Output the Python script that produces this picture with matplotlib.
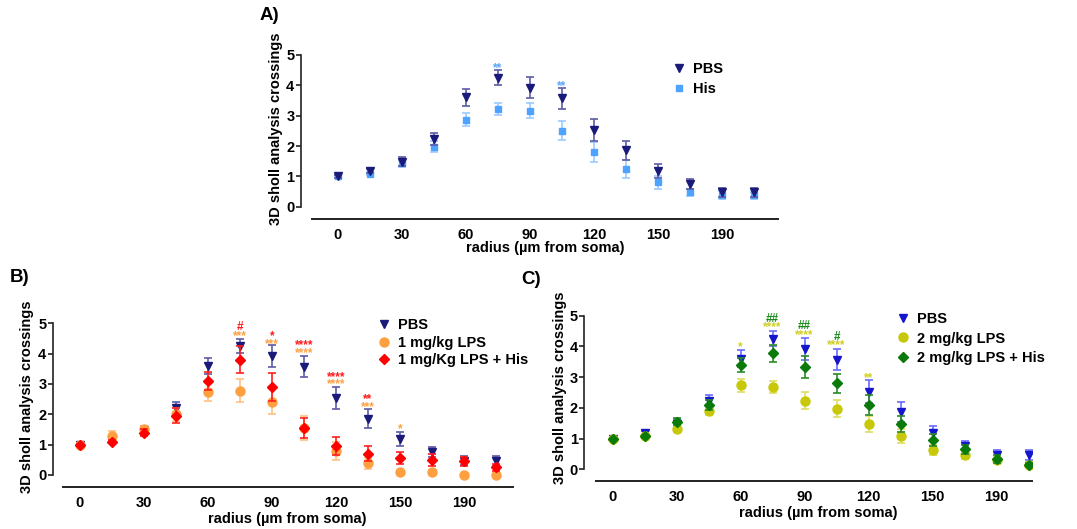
import matplotlib
matplotlib.use("Agg")
import matplotlib.pyplot as plt
import numpy as np

# ---------------- data ----------------
radius_labels = ["0", "", "30", "", "60", "", "90", "", "120", "", "150", "", "190", ""]
n_pts = 14

pbs_mean = [1.0, 1.17, 1.48, 2.22, 3.60, 4.25, 3.92, 3.57, 2.53, 1.86, 1.18, 0.75, 0.47, 0.47]
pbs_err = [0.05, 0.07, 0.15, 0.20, 0.27, 0.24, 0.35, 0.35, 0.37, 0.32, 0.23, 0.17, 0.15, 0.16]

his_mean = [1.0, 1.08, 1.43, 1.97, 2.87, 3.23, 3.17, 2.50, 1.80, 1.23, 0.80, 0.47, 0.40, 0.38]
his_err = [0.03, 0.05, 0.12, 0.18, 0.22, 0.20, 0.25, 0.31, 0.33, 0.30, 0.22, 0.12, 0.13, 0.12]

lps1_mean = [1.0, 1.30, 1.50, 2.00, 2.73, 2.78, 2.42, 1.55, 0.80, 0.38, 0.10, 0.10, 0.0, 0.0]
lps1_err = [0.04, 0.14, 0.12, 0.22, 0.30, 0.37, 0.42, 0.40, 0.30, 0.17, 0.04, 0.06, 0.02, 0.02]

lps1his_mean = [1.0, 1.10, 1.40, 1.95, 3.10, 3.80, 2.90, 1.55, 0.95, 0.70, 0.55, 0.50, 0.45, 0.25]
lps1his_err = [0.03, 0.06, 0.12, 0.25, 0.30, 0.45, 0.45, 0.32, 0.30, 0.25, 0.20, 0.20, 0.15, 0.12]

lps2_mean = [1.0, 1.07, 1.30, 1.90, 2.73, 2.68, 2.23, 1.97, 1.47, 1.07, 0.63, 0.45, 0.30, 0.15]
lps2_err = [0.04, 0.05, 0.08, 0.13, 0.20, 0.20, 0.28, 0.27, 0.27, 0.23, 0.17, 0.10, 0.10, 0.08]

lps2his_mean = [1.0, 1.07, 1.55, 2.10, 3.40, 3.77, 3.33, 2.80, 2.10, 1.47, 0.95, 0.65, 0.33, 0.15]
lps2his_err = [0.03, 0.05, 0.12, 0.17, 0.22, 0.27, 0.35, 0.30, 0.32, 0.27, 0.20, 0.15, 0.12, 0.07]

# significance annotations: (index, y, text, colour-key)
ann_A = [(5, 4.67, "**", "his"), (7, 4.07, "**", "his")]
ann_B = [(5, 4.97, "#", "red"), (5, 4.67, "***", "orange"),
         (6, 4.67, "*", "red"), (6, 4.42, "***", "orange"),
         (7, 4.39, "****", "red"), (7, 4.12, "****", "orange"),
         (8, 3.33, "****", "red"), (8, 3.08, "****", "orange"),
         (9, 2.60, "**", "red"), (9, 2.35, "***", "orange"),
         (10, 1.60, "*", "orange")]
ann_C = [(4, 4.07, "*", "yellow"),
         (5, 4.98, "##", "green"), (5, 4.73, "****", "yellow"),
         (6, 4.78, "##", "green"), (6, 4.47, "****", "yellow"),
         (7, 4.42, "#", "green"), (7, 4.14, "****", "yellow"),
         (8, 3.08, "**", "yellow")]

# ---------------- style ----------------
W, H = 1077, 529
fig = plt.figure(figsize=(W / 100, H / 100), dpi=100)
BOLD = ["Liberation Sans", "DejaVu Sans"]
NARROW = ["Liberation Sans Narrow", "Liberation Sans", "DejaVu Sans"]
plt.rcParams["font.family"] = BOLD

ann_colors = {"his": "#5aa5ff", "red": "#ff1a1a", "orange": "#ffa040",
              "green": "#1a8a1a", "yellow": "#cfcf20"}


def fx(x):
    return x / W


def fy(y):
    return 1 - y / H


def make_axes(x0, dx, y0, dy, left, line_start, right, bottom, top):
    ax = fig.add_axes([fx(left), fy(bottom), (right - left) / W, (bottom - top) / H])
    ax.set_xlim((left - x0) / dx, (right - x0) / dx)
    ax.set_ylim((y0 - bottom) / dy, (y0 - top) / dy)
    ax.patch.set_alpha(0)
    for s in ("top", "right"):
        ax.spines[s].set_visible(False)
    ax.spines["left"].set_bounds(0, 5)
    ax.spines["bottom"].set_bounds((line_start - x0) / dx, (right - x0) / dx)
    ax.spines["left"].set_linewidth(1.2)
    ax.spines["bottom"].set_linewidth(1.4)
    ax.spines["left"].set_color("#222222")
    ax.spines["bottom"].set_color("#222222")
    ax.set_yticks(range(6))
    ax.set_xticks(range(n_pts))
    ax.set_xticklabels(radius_labels)
    ax.tick_params(axis="x", length=0, pad=6.5)
    ax.tick_params(axis="y", length=3.5, width=1.2, pad=1, color="#222222")
    for lab in ax.get_xticklabels() + ax.get_yticklabels():
        lab.set_fontfamily(NARROW)
        lab.set_fontweight("bold")
        lab.set_fontsize(10.5)
    return ax


def series(ax, mean, err, marker, ms, color, ecolor, label, z):
    x = np.arange(n_pts)
    ax.errorbar(x, mean, yerr=err, fmt="none", ecolor=ecolor, elinewidth=1.2,
                capsize=3, capthick=1.2, zorder=z)
    ax.plot(x, mean, linestyle="none", marker=marker, ms=ms, color=color,
            markeredgecolor=color, label=label, zorder=z + 0.5)


def labels(ax, ylab_xy, xlab_xy):
    ax.set_ylabel("3D sholl analysis crossings", fontsize=10.5, fontweight="bold")
    ax.yaxis.set_label_coords(fx(ylab_xy[0]), fy(ylab_xy[1]), transform=fig.transFigure)
    ax.set_xlabel("radius (µm from soma)", fontsize=10.5, fontweight="bold")
    ax.xaxis.set_label_coords(fx(xlab_xy[0]), fy(xlab_xy[1]), transform=fig.transFigure)
    ax.xaxis.label.set_va("center")
    ax.yaxis.label.set_va("center")


def annotate(ax, anns):
    for i, y, t, c in anns:
        ax.text(i, y - 0.2, t, color=ann_colors[c], fontsize=8.5, fontweight="bold",
                ha="center", va="baseline", zorder=5)


def legend(ax, x, y, spacing, order=None):
    h, l = ax.get_legend_handles_labels()
    if order is not None:
        h = [h[i] for i in order]
        l = [l[i] for i in order]
    ax.legend(h, l, loc="upper left", bbox_to_anchor=(fx(x), fy(y)),
              bbox_transform=fig.transFigure,
              frameon=False, handlelength=0.8, handletextpad=0.6, borderpad=0,
              borderaxespad=0, labelspacing=spacing,
              prop={"weight": "bold", "size": 10.5})


# ---------------- panel A ----------------
axA = make_axes(338, 32, 206.7, 30.34, 300.7, 312, 778, 219, 40)
series(axA, his_mean, his_err, "s", 5, "#4da3ff", "#9ccbff", "His", 2)
series(axA, pbs_mean, pbs_err, "v", 5.5, "#1a1a7a", "#5c5ca8", "PBS", 3)
labels(axA, (276, 129), (545, 248))
annotate(axA, ann_A)
legend(axA, 673, 62, 0.4, order=[1, 0])
fig.text(fx(260), fy(16), "A)", fontsize=13.5, fontweight="bold", va="center", ha="left")

# ---------------- panel B ----------------
axB = make_axes(80, 32, 475, 30.34, 52.7, 63, 513, 487.3, 300)
series(axB, pbs_mean, pbs_err, "v", 5.5, "#1a1a7a", "#5c5ca8", "PBS", 2)
series(axB, lps1_mean, lps1_err, "o", 6.5, "#ffa040", "#ffc080", "1 mg/kg LPS", 3)
series(axB, lps1his_mean, lps1his_err, "D", 5, "#ff0000", "#ff2020", "1 mg/Kg LPS + His", 4)
labels(axB, (27, 397), (287, 519))
annotate(axB, ann_B)
legend(axB, 378, 318, 0.25)
fig.text(fx(10), fy(277), "B)", fontsize=13.5, fontweight="bold", va="center", ha="left")

# ---------------- panel C ----------------
axC = make_axes(612.7, 32, 469.3, 30.72, 584.3, 596, 1032, 481, 295)
series(axC, pbs_mean, pbs_err, "v", 5.5, "#1515cc", "#6b6bff", "PBS", 2)
series(axC, lps2_mean, lps2_err, "o", 6.5, "#c8c80a", "#dede60", "2 mg/kg LPS", 3)
series(axC, lps2his_mean, lps2his_err, "D", 5, "#0a7a0a", "#2a8a2a", "2 mg/kg LPS + His", 4)
labels(axC, (560, 388), (818, 513))
annotate(axC, ann_C)
legend(axC, 897, 312, 0.38)
fig.text(fx(521), fy(280), "C)", fontsize=13.5, fontweight="bold", va="center", ha="left")

fig.savefig("out.png", dpi=100)
